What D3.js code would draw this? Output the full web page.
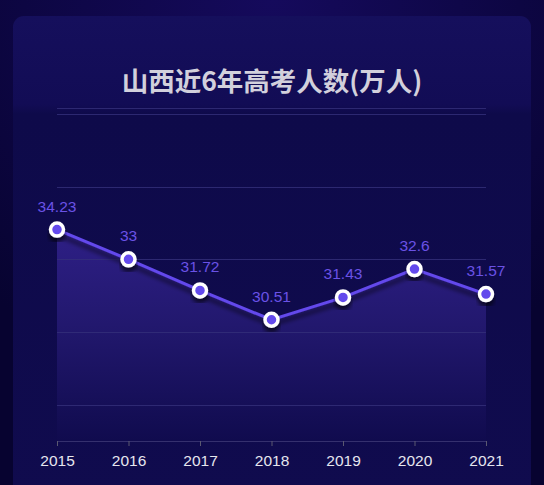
<!DOCTYPE html>
<head>
<meta charset="utf-8">
<script src="https://d3js.org/d3.v7.min.js"></script>
<style>
  html, body { margin: 0; padding: 0; background: #09053a; }
  svg { display: block; }
</style>
</head>
<body>
<script>
// chart data
var years = ["2015", "2016", "2017", "2018", "2019", "2020", "2021"];
var counts = [34.23, 33, 31.72, 30.51, 31.43, 32.6, 31.57];
var yTicks = [27, 30, 33, 36, 39];
var title = "山西近6年高考人数(万人)";

var W = 544, H = 485;
var plot = {left: 57, right: 486, top: 108.3, bottom: 441};

var svg = d3.select("body").append("svg")
    .attr("width", W)
    .attr("height", H);

var defs = svg.append("defs");

var bg = defs.append("radialGradient").attr("id", "bg")
    .attr("cx", "50%").attr("cy", "0%").attr("r", "80%");
bg.append("stop").attr("offset", "0%").attr("stop-color", "#150a5c");
bg.append("stop").attr("offset", "100%").attr("stop-color", "#070330");

var card = defs.append("linearGradient").attr("id", "card")
    .attr("x1", 0).attr("y1", 0).attr("x2", 0).attr("y2", 1);
card.append("stop").attr("offset", "0%").attr("stop-color", "#150f5c");
card.append("stop").attr("offset", "18%").attr("stop-color", "#120c55");
card.append("stop").attr("offset", "20%").attr("stop-color", "#0e0a4a");
card.append("stop").attr("offset", "100%").attr("stop-color", "#100b4e");

var area = defs.append("linearGradient").attr("id", "area")
    .attr("x1", 0).attr("y1", 0).attr("x2", 0).attr("y2", 1);
area.append("stop").attr("offset", "0%").attr("stop-color", "#2e1f86");
area.append("stop").attr("offset", "45%").attr("stop-color", "#22186e");
area.append("stop").attr("offset", "100%").attr("stop-color", "#100b4e");

var shadow = defs.append("filter").attr("id", "shadow")
    .attr("x", "-20%").attr("y", "-20%").attr("width", "140%").attr("height", "160%");
shadow.append("feDropShadow").attr("dx", 0).attr("dy", 5).attr("stdDeviation", 2)
    .attr("flood-color", "#000000").attr("flood-opacity", 0.6);

svg.append("rect").attr("width", W).attr("height", H).attr("fill", "url(#bg)");
svg.append("rect")
    .attr("x", 13).attr("y", 16).attr("width", 518).attr("height", 490)
    .attr("rx", 11).attr("fill", "url(#card)");

svg.append("text")
    .attr("x", 272).attr("y", 91)
    .attr("text-anchor", "middle")
    .attr("font-family", "'Noto Sans CJK SC', sans-serif")
    .attr("font-size", 26.5).attr("font-weight", "bold")
    .attr("fill", "#d2d0dc")
    .text(title);

var x = d3.scalePoint().domain(years).range([plot.left, plot.right]);
var y = d3.scaleLinear()
    .domain([d3.min(counts) - 5, d3.max(counts) + 5])
    .range([plot.bottom, plot.top]);

var data = years.map(function(d, i) { return {year: d, value: counts[i]}; });

svg.append("path")
    .datum(data)
    .attr("fill", "url(#area)")
    .attr("d", d3.area()
        .x(function(d) { return x(d.year); })
        .y0(plot.bottom)
        .y1(function(d) { return y(d.value); }));

// split lines, drawn over the area
svg.append("g").selectAll("line")
    .data(yTicks.concat([y.domain()[1]]))
    .enter().append("line")
    .attr("x1", plot.left).attr("x2", plot.right)
    .attr("y1", function(d) { return Math.round(y(d)) + 0.5; })
    .attr("y2", function(d) { return Math.round(y(d)) + 0.5; })
    .attr("stroke", "#34307a").attr("stroke-opacity", 0.8).attr("stroke-width", 1);

// x axis
var xAxis = svg.append("g")
    .attr("transform", "translate(0," + plot.bottom + ")")
    .call(d3.axisBottom(x).tickSizeOuter(0).tickSize(5).tickPadding(9));
xAxis.select(".domain").attr("stroke", "#35306e");
xAxis.selectAll(".tick line").attr("stroke", "#5a5870");
xAxis.selectAll("text")
    .attr("fill", "#e6e6ee")
    .attr("font-family", "'Liberation Sans', Arial, sans-serif")
    .attr("font-size", 15.5);

svg.append("path")
    .datum(data)
    .attr("fill", "none")
    .attr("stroke", "#6448ec")
    .attr("stroke-width", 3)
    .attr("filter", "url(#shadow)")
    .attr("d", d3.line()
        .x(function(d) { return x(d.year); })
        .y(function(d) { return y(d.value); }));

svg.append("g").selectAll("circle")
    .data(data)
    .enter().append("circle")
    .attr("cx", function(d) { return x(d.year); })
    .attr("cy", function(d) { return y(d.value); })
    .attr("r", 6.5)
    .attr("fill", "#6448ec")
    .attr("stroke", "#ffffff")
    .attr("stroke-width", 3.5)
    .attr("filter", "url(#shadow)");

svg.append("g").selectAll("text")
    .data(data)
    .enter().append("text")
    .attr("x", function(d) { return x(d.year); })
    .attr("y", function(d) { return y(d.value) - 18; })
    .attr("text-anchor", "middle")
    .attr("font-family", "'Liberation Sans', Arial, sans-serif")
    .attr("font-size", 15.5)
    .attr("fill", "#6a52e6")
    .text(function(d) { return d.value; });
</script>
</body>
